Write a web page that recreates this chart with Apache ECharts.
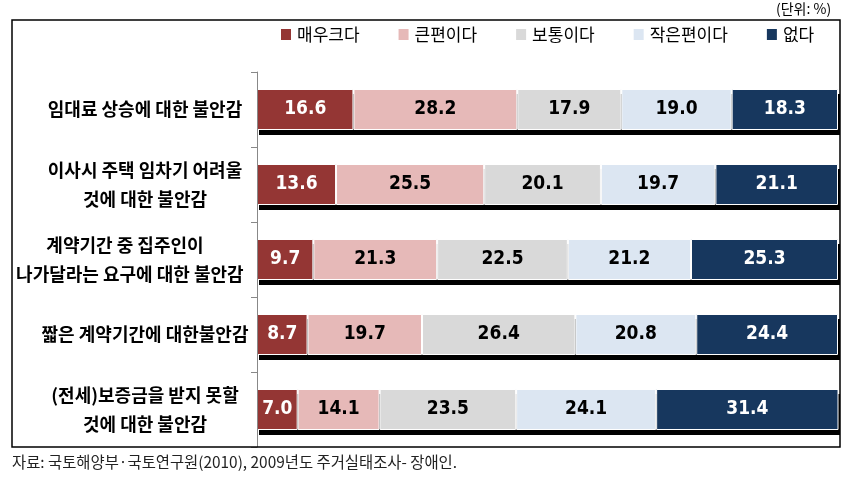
<!DOCTYPE html>
<html><head><meta charset="utf-8">
<script src="https://cdn.jsdelivr.net/npm/echarts@6/dist/echarts.min.js"></script>
<style>html,body{margin:0;padding:0;background:#fff}#c{width:848px;height:483px}</style>
</head><body><div id="c"></div>
<script>
var categories = [
  '임대료 상승에 대한 불안감',
  '이사시 주택 임차기 어려울\n것에 대한 불안감',
  '계약기간 중 집주인이\u3000\u3000 \n나가달라는 요구에 대한 불안감\u3000   ',
  '짧은 계약기간에 대한불안감',
  '(전세)보증금을 받지 못할\n것에 대한 불안감'
];
var seriesNames = ['매우크다', '큰편이다', '보통이다', '작은편이다', '없다'];
var veryHigh = [16.6, 13.6, 9.7, 8.7, 7.0];
var high = [28.2, 25.5, 21.3, 19.7, 14.1];
var normal = [17.9, 20.1, 22.5, 26.4, 23.5];
var low = [19.0, 19.7, 21.2, 20.8, 24.1];
var none = [18.3, 21.1, 25.3, 24.4, 31.4];
var values = [veryHigh, high, normal, low, none];
var colors = ['#943634', '#E6B9B8', '#D9D9D9', '#DCE6F2', '#17375E'];
var labelColors = ['#fff', '#000', '#000', '#000', '#fff'];

var totals = categories.map(function (c, k) {
  return values.reduce(function (s, arr) { return s + arr[k]; }, 0);
});

var chart = echarts.init(document.getElementById('c'));
var series = seriesNames.map(function (n, i) {
  return {
    name: n, type: 'bar', stack: 'all', data: values[i], barWidth: 41, z: 3,
    xAxisIndex: 0, yAxisIndex: 0,
    itemStyle: { color: colors[i], borderColor: '#fff', borderWidth: 1 },
    label: { show: true, position: 'inside', color: labelColors[i],
      fontFamily: '"Liberation Sans Narrow","DejaVu Sans Condensed",sans-serif',
      fontWeight: 'bold', fontSize: 19,
      formatter: function (p) { return p.value.toFixed(1); } },
    emphasis: { disabled: true }
  };
});
series.unshift({
  name: 'shadow', type: 'bar', data: totals, barWidth: 41, z: 1,
  xAxisIndex: 1, yAxisIndex: 1, silent: true,
  itemStyle: { color: '#000' }, label: { show: false }, emphasis: { disabled: true }
});
chart.setOption({
  animation: false,
  textStyle: { fontFamily: '"Noto Sans CJK KR", sans-serif' },
  graphic: [
    { type: 'rect', shape: { x: 12, y: 20, width: 828, height: 427 },
      style: { fill: null, stroke: '#000', lineWidth: 1.5 }, z: 100 },
    { type: 'text', left: 776, top: 2,
      style: { text: '(단위: %)', fontSize: 14, fill: '#000', fontFamily: '"Noto Sans CJK KR", sans-serif' } },
    { type: 'text', left: 12, top: 454,
      style: { text: '자료: 국토해양부·국토연구원(2010), 2009년도 주거실태조사- 장애인.', fontSize: 15.4, fill: '#222', fontFamily: '"Noto Sans CJK KR", sans-serif' } }
  ],
  legend: {
    left: 274, top: 21, itemWidth: 12, itemHeight: 13, itemGap: 37,
    icon: 'rect',
    textStyle: { fontSize: 17, color: '#000', fontFamily: '"Noto Sans CJK KR", sans-serif' },
    data: seriesNames
  },
  grid: [
    { left: 257, right: 10, top: 72, bottom: 36 },
    { left: 259, right: 8, top: 77, bottom: 31 }
  ],
  xAxis: [
    { type: 'value', min: 0, max: 100, show: false, gridIndex: 0 },
    { type: 'value', min: 0, max: 100, show: false, gridIndex: 1 }
  ],
  yAxis: [{
    type: 'category', data: categories, inverse: true, gridIndex: 0, z: 4,
    axisLine: { lineStyle: { color: '#888', width: 1 } },
    axisTick: { show: true, length: 6, lineStyle: { color: '#888' } },
    axisLabel: { align: 'center', margin: 112, fontSize: 18, fontWeight: 'bold', color: '#000',
      lineHeight: 29, fontFamily: '"Noto Sans CJK KR", sans-serif' }
  }, {
    type: 'category', data: categories, inverse: true, gridIndex: 1, show: false
  }],
  series: series
});
</script></body></html>
